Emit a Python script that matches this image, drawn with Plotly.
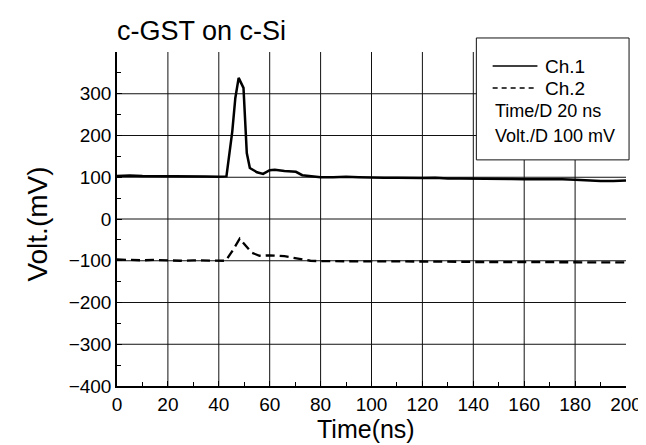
import plotly.graph_objects as go

# ---- data ----
ch1_t = [0, 5, 10, 15, 20, 25, 30, 35, 40, 43, 45.3, 46.5, 47.8, 49.7, 51, 52.2, 55, 57.4,
         60, 62, 65.8, 70.3, 72.8, 77.3, 80, 85, 90, 95, 100, 105, 110, 115, 120, 125, 130,
         135, 140, 145, 150, 155, 160, 165, 170, 175, 180, 185, 190, 195, 200]
ch1_v = [103, 104, 103, 103, 102, 103, 102, 102, 101, 102, 210, 290, 338, 314, 158, 122, 112, 108,
         117, 118, 115, 113, 105, 101, 100, 100, 101, 100, 99, 99, 99, 98, 98, 99, 97,
         97, 97, 96, 96, 96, 95, 95, 96, 95, 94, 92, 91, 91, 92]

ch2_t = [0, 5, 10, 15, 20, 25, 30, 35, 40, 42.7, 45.5, 48.2, 50, 53, 56, 60, 65.8, 72, 76,
         80, 90, 100, 110, 120, 130, 140, 150, 160, 170, 180, 190, 200]
ch2_v = [-97, -98, -99, -98, -99, -100, -99, -99, -100, -100, -75, -47, -60, -81, -88, -87, -89, -95, -100,
         -101, -101, -102, -101, -102, -102, -103, -103, -103, -103, -104, -104, -104]

x_ticks = [0, 20, 40, 60, 80, 100, 120, 140, 160, 180, 200]
y_ticks = [-400, -300, -200, -100, 0, 100, 200, 300]
x_grid = [20, 40, 60, 80, 100, 120, 140, 160, 180]
y_grid = [-300, -200, -100, 0, 100, 200, 300]
x_range = [0, 200]
y_range = [-400, 400]

legend_lines = ["Time/D 20 ns", "Volt./D 100 mV"]
series_names = ["Ch.1", "Ch.2"]

FONT = "Liberation Sans, Arial, Helvetica, sans-serif"

fig = go.Figure()
fig.add_trace(go.Scatter(x=ch1_t, y=ch1_v, mode="lines", name=series_names[0],
                         line=dict(color="black", width=2.5), showlegend=False))
fig.add_trace(go.Scatter(x=ch2_t, y=ch2_v, mode="lines", name=series_names[1],
                         line=dict(color="black", width=2.3, dash="9px,5px"), showlegend=False))

shapes = []
for xv in x_grid:
    shapes.append(dict(type="line", xref="x", yref="y", x0=xv, x1=xv, y0=y_range[0], y1=y_range[1],
                       line=dict(color="#111", width=1), layer="below"))
for yv in y_grid:
    shapes.append(dict(type="line", xref="x", yref="y", x0=x_range[0], x1=x_range[1], y0=yv, y1=yv,
                       line=dict(color="#111", width=1), layer="below"))

# legend box (paper coords)
shapes.append(dict(type="rect", xref="paper", yref="paper", x0=0.706, x1=1.006, y0=0.677, y1=1.042,
                   line=dict(color="#111", width=1), fillcolor="white", layer="above"))
# legend samples
shapes.append(dict(type="line", xref="paper", yref="paper", x0=0.738, x1=0.826, y0=0.958, y1=0.958,
                   line=dict(color="black", width=1.5), layer="above"))
shapes.append(dict(type="line", xref="paper", yref="paper", x0=0.738, x1=0.826, y0=0.892, y1=0.892,
                   line=dict(color="black", width=1.5, dash="5px,4px"), layer="above"))

annotations = [
    dict(text="c-GST on c-Si", xref="paper", yref="paper", x=-0.004, y=1.062, xanchor="left",
         yanchor="middle", showarrow=False, font=dict(size=27, color="black", family=FONT)),
    dict(text=series_names[0], xref="paper", yref="paper", x=0.836, y=0.958, xanchor="left",
         yanchor="middle", showarrow=False, font=dict(size=19, color="black", family=FONT)),
    dict(text=series_names[1], xref="paper", yref="paper", x=0.836, y=0.892, xanchor="left",
         yanchor="middle", showarrow=False, font=dict(size=19, color="black", family=FONT)),
    dict(text=legend_lines[0], xref="paper", yref="paper", x=0.738, y=0.823, xanchor="left",
         yanchor="middle", showarrow=False, font=dict(size=18, color="black", family=FONT)),
    dict(text=legend_lines[1], xref="paper", yref="paper", x=0.738, y=0.749, xanchor="left",
         yanchor="middle", showarrow=False, font=dict(size=18, color="black", family=FONT)),
    dict(text="Volt.(mV)", xref="paper", yref="paper", x=-0.158, y=0.485, xanchor="center",
         yanchor="middle", textangle=-90, showarrow=False, font=dict(size=28, color="black", family=FONT)),
    dict(text="Time(ns)", xref="paper", yref="paper", x=0.49, y=-0.128, xanchor="center",
         yanchor="middle", showarrow=False, font=dict(size=25, color="black", family=FONT)),
]

fig.update_layout(
    width=646, height=445,
    margin=dict(l=109, r=17, t=44, b=67),
    paper_bgcolor="white", plot_bgcolor="white",
    shapes=shapes, annotations=annotations,
    showlegend=False,
    font=dict(family=FONT, color="black", size=19),
)
fig.update_xaxes(range=x_range, tickmode="array", tickvals=x_ticks, showgrid=False, zeroline=False,
                 showline=True, linecolor="black", linewidth=1.5, ticks="inside", ticklen=5,
                 tickcolor="black", tickfont=dict(size=19, family=FONT),
                 minor=dict(dtick=10, ticks="inside", ticklen=4, tickcolor="black", showgrid=False))
fig.update_yaxes(range=y_range, tickmode="array", tickvals=y_ticks, showgrid=False, zeroline=False,
                 showline=True, linecolor="black", linewidth=1.5, ticks="inside", ticklen=5,
                 tickcolor="black", tickfont=dict(size=19, family=FONT),
                 minor=dict(dtick=50, ticks="inside", ticklen=4, tickcolor="black", showgrid=False))

fig.write_html("out.html")
